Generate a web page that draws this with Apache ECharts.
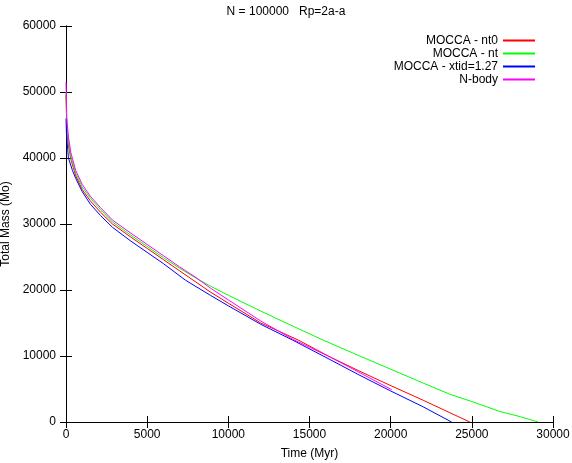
<!DOCTYPE html>
<html>
<head>
<meta charset="utf-8">
<script src="https://cdn.jsdelivr.net/npm/echarts@6/dist/echarts.min.js"></script>
<style>
  html, body { margin: 0; padding: 0; background: #fff; }
  #chart { width: 572px; height: 463px; }
</style>
</head>
<body>
<div id="chart"></div>
<script>
// time (Myr) and total mass (Mo)
var tNt0 = [0, 50, 150, 300, 600, 1000, 1500, 2120, 2860, 4000, 5000, 6000, 7000, 8890, 10000, 12000, 14320, 16270, 18000, 19960, 22000, 23650, 24880];
var mNt0 = [49500, 44500, 42000, 39800, 37300, 35200, 33500, 31800, 30000, 28000, 26300, 24600, 22900, 19700, 18000, 15000, 12400, 9850, 7800, 5560, 3300, 1400, 0];

var tNt = [0, 50, 150, 300, 600, 1000, 1500, 2120, 2860, 4000, 5000, 6000, 7000, 8070, 8890, 10000, 12000, 14000, 15850, 18000, 20000, 22000, 23650, 25000, 26720, 28000, 29080];
var mNt = [50000, 45000, 42500, 40200, 37700, 35600, 33900, 32200, 30300, 28300, 26600, 24900, 23300, 21700, 20600, 19200, 16800, 14500, 12400, 10100, 8000, 5900, 4200, 3100, 1600, 800, 0];

var tXtid = [0, 30, 150, 400, 600, 1000, 1500, 2120, 2860, 4000, 5000, 6000, 7350, 8890, 10000, 12000, 13970, 16270, 18000, 20000, 22000, 23750];
var mXtid = [46000, 43500, 40000, 38100, 36900, 34900, 33000, 31300, 29500, 27400, 25700, 24000, 21500, 19200, 17600, 14800, 12400, 9450, 7200, 4700, 2300, 0];

var tNbody = [0, 50, 150, 300, 600, 1000, 1500, 2120, 2860, 4000, 5000, 6000, 7000, 8000, 8890, 10000, 12000, 14000, 16270, 18000, 20060];
var mNbody = [51500, 46000, 43200, 40800, 38100, 36000, 34200, 32500, 30600, 28600, 26900, 25200, 23500, 21900, 20300, 18500, 15300, 12500, 9850, 7600, 4900];

var seriesNames = ['MOCCA - nt0', 'MOCCA - nt', 'MOCCA - xtid=1.27', 'N-body'];
var seriesColors = ['#ff0000', '#00ff00', '#0000ff', '#ff00ff'];

function pairs(t, m) {
  var out = [];
  for (var i = 0; i < t.length; i++) out.push([t[i], m[i]]);
  return out;
}

var allData = [pairs(tNt0, mNt0), pairs(tNt, mNt), pairs(tXtid, mXtid), pairs(tNbody, mNbody)];

var font = 'Liberation Sans, Arial, sans-serif';
var chart = echarts.init(document.getElementById('chart'));

var series = seriesNames.map(function (name, i) {
  return {
    name: name,
    type: 'line',
    data: allData[i],
    symbol: 'none',
    lineStyle: { color: seriesColors[i], width: 1 },
    itemStyle: { color: seriesColors[i] },
    z: 2 + i
  };
});

var legendData = seriesNames.map(function (name, i) {
  return {
    name: name,
    icon: 'rect',
    itemStyle: { color: seriesColors[i], borderWidth: 0, opacity: 1 }
  };
});

function plain(v) { return String(v); }

var axisCommon = {
  type: 'value',
  axisLine: { show: true, lineStyle: { color: '#000', width: 1 } },
  axisTick: { show: true, inside: true, length: 6, lineStyle: { color: '#000' } },
  splitLine: { show: false }
};

var option = {
  animation: false,
  title: {
    text: 'N = 100000   Rp=2a-a',
    left: 'center',
    top: 1,
    textStyle: { fontFamily: font, fontSize: 12, fontWeight: 'normal', color: '#000' }
  },
  legend: {
    data: legendData,
    orient: 'vertical',
    right: 32,
    top: 29,
    align: 'right',
    itemWidth: 32,
    itemHeight: 2,
    itemGap: 0,
    itemStyle: { borderWidth: 0 },
    lineStyle: { width: 0 },
    textStyle: { fontFamily: font, fontSize: 12, color: '#000', lineHeight: 13 }
  },
  grid: { left: 66, right: 19, top: 26, bottom: 41, containLabel: false, outerBoundsMode: 'none' },
  xAxis: [
    Object.assign({}, axisCommon, {
      min: 0, max: 30000, interval: 5000,
      name: 'Time (Myr)',
      nameLocation: 'middle',
      nameGap: 26,
      nameTextStyle: { fontFamily: font, fontSize: 12, color: '#000' },
      axisLabel: { fontFamily: font, fontSize: 12, color: '#000', margin: 7, formatter: plain }
    }),
    Object.assign({}, axisCommon, {
      min: 0, max: 30000, interval: 5000,
      position: 'top',
      axisLabel: { show: false }
    })
  ],
  yAxis: [
    Object.assign({}, axisCommon, {
      min: 0, max: 60000, interval: 10000,
      name: 'Total Mass (Mo)',
      nameLocation: 'middle',
      nameGap: 48,
      nameTextStyle: { fontFamily: font, fontSize: 12, color: '#000' },
      axisLabel: { fontFamily: font, fontSize: 12, color: '#000', margin: 10, formatter: plain }
    }),
    Object.assign({}, axisCommon, {
      min: 0, max: 60000, interval: 10000,
      position: 'right',
      axisLabel: { show: false }
    })
  ],
  series: series
};

chart.setOption(option);
</script>
</body>
</html>
